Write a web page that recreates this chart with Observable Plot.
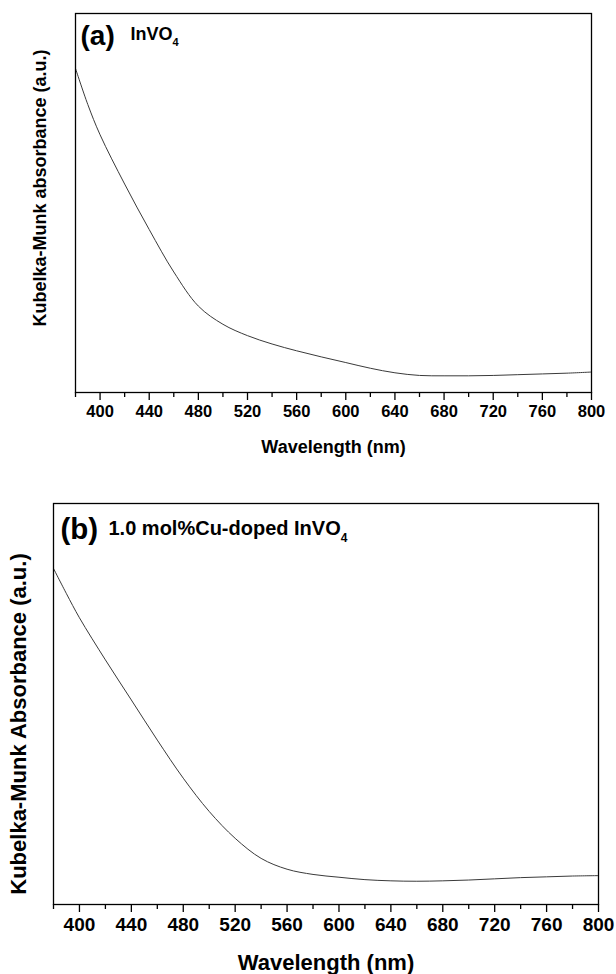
<!DOCTYPE html>
<html>
<head>
<meta charset="utf-8">
<script src="https://cdn.jsdelivr.net/npm/d3@7"></script>
<script src="https://cdn.jsdelivr.net/npm/@observablehq/plot@0.6"></script>
<style>
  html, body { margin: 0; padding: 0; background: #fff; }
  #chart { width: 616px; }
  #chart svg { display: block; }
</style>
</head>
<body>
<div id="chart"></div>
<script>
// Wavelength (nm) sample points
const wavelengths = [380, 390, 400, 420, 440, 460, 480, 500, 520, 540, 560, 580, 600, 620, 640, 660, 680, 700, 720, 740, 760, 780, 800];
// Panel (a): InVO4, Kubelka-Munk absorbance (arbitrary units)
const absA = [0.855, 0.760, 0.680, 0.550, 0.430, 0.318, 0.228, 0.180, 0.150, 0.128, 0.110, 0.094, 0.079, 0.064, 0.052, 0.045, 0.044, 0.044, 0.045, 0.047, 0.049, 0.051, 0.054];
// Panel (b): 1.0 mol% Cu-doped InVO4
const absB = [0.838, 0.775, 0.715, 0.610, 0.510, 0.410, 0.315, 0.232, 0.165, 0.115, 0.088, 0.075, 0.068, 0.062, 0.059, 0.058, 0.059, 0.061, 0.064, 0.067, 0.069, 0.071, 0.072];

const majorTicks = [400, 440, 480, 520, 560, 600, 640, 680, 720, 760, 800];
const minorTicks = [380, 420, 460, 500, 540, 580, 620, 660, 700, 740, 780];

const xLabel = "Wavelength (nm)";
const yLabelA = "Kubelka-Munk absorbance (a.u.)";
const yLabelB = "Kubelka-Munk Absorbance (a.u.)";
const tagA = "(a)";
const nameA = "InVO";
const tagB = "(b)";
const nameB = "1.0 mol%Cu-doped InVO";
const sub = "4";

const FONT = "'Liberation Sans', Arial, Helvetica, sans-serif";

function panel(o) {
  const data = wavelengths.map((w, i) => ({w, a: o.values[i]}));
  const svg = Plot.plot({
    width: 616,
    height: o.height,
    marginLeft: o.ml, marginRight: o.mr, marginTop: o.mt, marginBottom: o.mb,
    style: {fontFamily: FONT, background: "#fff", color: "#000"},
    x: {domain: [380, 800]},
    y: {domain: [0, 1], axis: null},
    marks: [
      Plot.line(data, {x: "w", y: "a", stroke: "#3a3a3a", strokeWidth: 1, curve: "catmull-rom"}),
      Plot.frame({stroke: "#000", strokeWidth: 1.3}),
      Plot.axisX({ticks: minorTicks, tickSize: 5, tickFormat: () => "", stroke: "#000", strokeWidth: 1.3, label: null}),
      Plot.axisX({ticks: majorTicks, tickSize: 8, tickPadding: o.tickPad, tickFormat: d => String(d),
        fontSize: o.tickFont, fontWeight: "bold", stroke: "#000", strokeWidth: 1.3, label: null}),
      Plot.text([xLabel], {frameAnchor: "bottom", dy: o.xLabDy, text: d => d, fontSize: o.labFont, fontWeight: "bold", lineAnchor: "middle", fill: "#000"}),
      Plot.text([o.yLabel], {frameAnchor: "left", dx: -35, dy: o.yLabDy, rotate: -90, text: d => d, fontSize: o.labFont, fontWeight: "bold", textAnchor: "middle", lineAnchor: "middle", fill: "#000"}),
      Plot.text([o.tag], {frameAnchor: "top-left", dx: o.tagDx, dy: o.tagDy, text: d => d, fontSize: o.tagFont, fontWeight: "bold", textAnchor: "start", lineAnchor: "middle", fill: "#000"}),
      Plot.text([o.name], {frameAnchor: "top-left", dx: o.nameDx, dy: o.nameDy, text: d => d, fontSize: o.nameFont, fontWeight: "bold", textAnchor: "start", lineAnchor: "middle", fill: "#000"})
    ]
  });
  // subscript "4" appended to the compound name as a real tspan
  d3.select(svg).selectAll("text").filter(function () { return this.textContent === o.name; })
    .append("tspan").attr("dy", "0.55em").attr("font-size", o.subFont).text(sub);
  return svg;
}

const chart = document.getElementById("chart");
chart.appendChild(panel({
  values: absA, height: 487, ml: 75, mr: 25, mt: 13, mb: 95,
  tickPad: 5, tickFont: 16.5, labFont: 18, xLabDy: 55, yLabDy: -15,
  yLabel: yLabelA, tag: tagA, name: nameA,
  tagDx: 5, tagDy: 23, tagFont: 28,
  nameDx: 55, nameDy: 21, nameFont: 18, subFont: 11
}));
chart.appendChild(panel({
  values: absB, height: 487, ml: 53, mr: 18, mt: 16, mb: 70,
  tickPad: 5, tickFont: 19, labFont: 22, xLabDy: 58, yLabDy: 20,
  yLabel: yLabelB, tag: tagB, name: nameB,
  tagDx: 7, tagDy: 26, tagFont: 29.5,
  nameDx: 55, nameDy: 25, nameFont: 20, subFont: 12
}));
</script>
</body>
</html>
